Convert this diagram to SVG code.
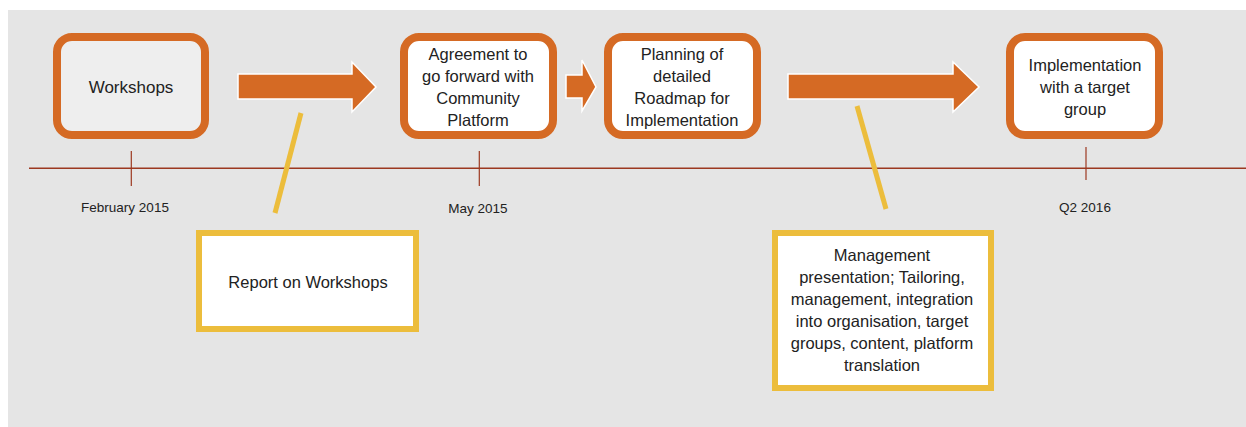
<svg xmlns="http://www.w3.org/2000/svg" width="1246" height="427" viewBox="0 0 1246 427">
<style>
.bg{fill:#e5e5e5}
.step{fill:#ffffff;stroke:#d56a24;stroke-width:8}
.note{fill:#ffffff;stroke:#ecbd3c;stroke-width:6}
.arrow{fill:#d56a24;stroke:#ffffff;stroke-width:1.5;stroke-linejoin:miter}
.lead{stroke:#ecbd3c;stroke-width:5;fill:none}
.axis{stroke:#9c3820;stroke-width:1.4;fill:none}
.tick{stroke:#9c3820;stroke-width:1.2;fill:none}
text{font-family:"Liberation Sans",Arial,sans-serif;fill:#222222;text-anchor:middle}
.t{font-size:16.5px}
.d{font-size:13.5px}
</style>
<rect class="bg" x="8" y="10" width="1238" height="417"/>
<g id="timeline">
<line class="axis" x1="29" y1="168.3" x2="1246" y2="168.3"/>
<line class="tick" x1="131.3" y1="151" x2="131.3" y2="186"/>
<line class="tick" x1="479.3" y1="151" x2="479.3" y2="186"/>
<line class="tick" x1="1086" y1="147" x2="1086" y2="180"/>
<text class="d" x="125" y="212">February 2015</text>
<text class="d" x="478" y="213">May 2015</text>
<text class="d" x="1085" y="212">Q2 2016</text>
</g>
<g id="connectors">
<polygon class="arrow" points="238,74 352,74 352,62 376,87 352,112 352,99 238,99"/>
<polygon class="arrow" points="566,75 582,75 582,60 596,87 582,111 582,98 566,98"/>
<polygon class="arrow" points="788,74 953,74 953,62 979,87 953,112 953,99 788,99"/>
<line class="lead" x1="301" y1="113" x2="275" y2="213"/>
<line class="lead" x1="857" y1="106" x2="886" y2="209"/>
</g>
<g id="workshops">
<rect class="step" x="57" y="37" width="148" height="98" rx="15" style="fill:#eeeeee"/>
<text x="131" y="93" style="font-size:17px">Workshops</text>
</g>
<g id="agreement">
<rect class="step" x="404" y="37" width="149" height="98" rx="15"/>
<text class="t" x="478" y="60">Agreement to</text>
<text class="t" x="478" y="82">go forward with</text>
<text class="t" x="478" y="104">Community</text>
<text class="t" x="478" y="126">Platform</text>
</g>
<g id="planning">
<rect class="step" x="608" y="37" width="149" height="98" rx="15"/>
<text class="t" x="682" y="60">Planning of</text>
<text class="t" x="682" y="82">detailed</text>
<text class="t" x="682" y="104">Roadmap for</text>
<text class="t" x="682" y="126">Implementation</text>
</g>
<g id="implementation">
<rect class="step" x="1010" y="37" width="149" height="98" rx="15"/>
<text class="t" x="1085" y="71">Implementation</text>
<text class="t" x="1085" y="93">with a target</text>
<text class="t" x="1085" y="115">group</text>
</g>
<g id="report">
<rect class="note" x="199" y="233" width="217" height="96"/>
<text class="t" x="308" y="288">Report on Workshops</text>
</g>
<g id="management">
<rect class="note" x="775" y="233" width="216" height="155"/>
<text class="t" x="882" y="261">Management</text>
<text class="t" x="882" y="283">presentation; Tailoring,</text>
<text class="t" x="882" y="305">management, integration</text>
<text class="t" x="882" y="327">into organisation, target</text>
<text class="t" x="882" y="349">groups, content, platform</text>
<text class="t" x="882" y="371">translation</text>
</g>
</svg>
